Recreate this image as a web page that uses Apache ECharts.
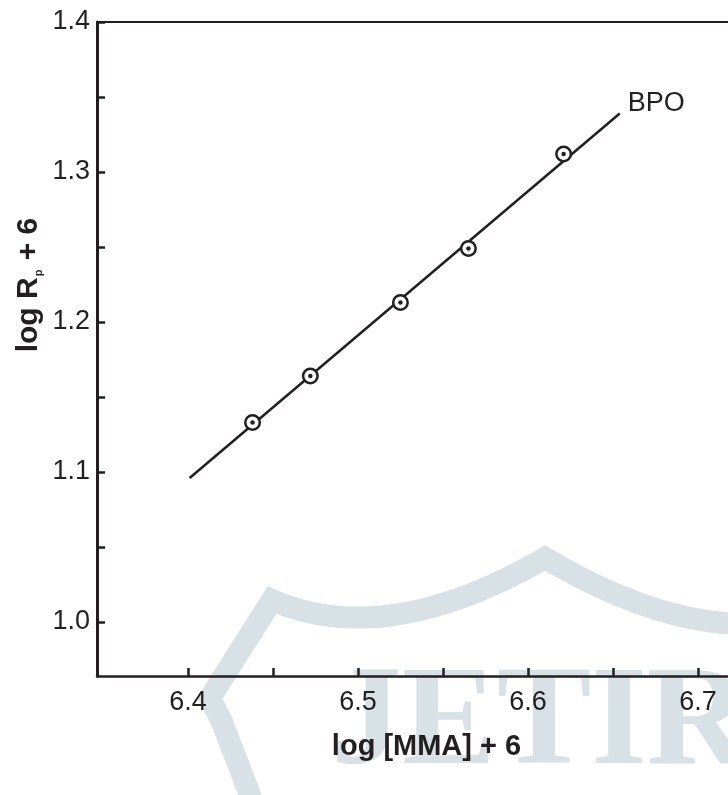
<!DOCTYPE html>
<html>
<head>
<meta charset="utf-8">
<script src="https://cdn.jsdelivr.net/npm/echarts@6/dist/echarts.min.js"></script>
<style>
  html, body { margin: 0; padding: 0; background: #ffffff; }
  #chart { width: 728px; height: 795px; }
</style>
</head>
<body>
<div id="chart"></div>
<script>
// Axis ticks and labels
const xTicks = [6.4, 6.45, 6.5, 6.55, 6.6, 6.65, 6.7];
const xLabels = [6.4, 6.5, 6.6, 6.7];
const yTicks = [1.0, 1.05, 1.1, 1.15, 1.2, 1.25, 1.3, 1.35, 1.4];
const yLabels = [1.0, 1.1, 1.2, 1.3, 1.4];

// Measured points: log[MMA]+6 vs log Rp+6
const mmaLog = [6.438, 6.472, 6.525, 6.565, 6.621];
const rateLog = [1.133, 1.164, 1.213, 1.249, 1.312];

// Least-squares line, end points
const fitX = [6.401, 6.654];
const fitY = [1.096, 1.339];
const seriesName = 'BPO';

const ink = '#231f20';
const wash = '#d8e1e6';
const sans = '"Liberation Sans", Arial, Helvetica, sans-serif';

const points = mmaLog.map((x, i) => [x, rateLog[i]]);
const fitLine = fitX.map((x, i) => [x, fitY[i]]);

// Quadratic curve sampler for the background emblem outline
function quad(p0, c, p1, n) {
  const out = [];
  for (let i = 0; i <= n; i++) {
    const t = i / n, a = (1 - t) * (1 - t), b = 2 * t * (1 - t), d = t * t;
    out.push([a * p0[0] + b * c[0] + d * p1[0], a * p0[1] + b * c[1] + d * p1[1]]);
  }
  return out;
}
const shield = [].concat(
  [[256, 812], [250, 795], [222, 722], [210, 698]],
  quad([272, 600], [386, 650], [545, 558], 30),
  quad([545, 558], [704, 652], [818, 612], 30).slice(1)
);

const xRange = { min: 6.3465, max: 6.7177 };

const chart = echarts.init(document.getElementById('chart'), null, { renderer: 'canvas' });

chart.setOption({
  animation: false,
  backgroundColor: '#ffffff',
  grid: { left: 97, top: 22, right: 0, height: 654, show: false },
  graphic: [
    {
      type: 'polyline', z: -100, silent: true,
      shape: { points: shield },
      style: { stroke: wash, lineWidth: 22, fill: null, lineJoin: 'miter', miterLimit: 4 }
    },
    {
      type: 'text', z: -100, silent: true, x: 331, y: 797,
      style: {
        text: 'JETIR', fill: wash, font: 'bold 142px "Liberation Serif", "Times New Roman", serif',
        textAlign: 'left', textVerticalAlign: 'bottom'
      }
    },
    {
      type: 'text', x: 29, y: 285, rotation: Math.PI / 2,
      style: {
        text: '{b|log R}{s|p}{b| + 6}',
        align: 'center', verticalAlign: 'middle',
        rich: {
          b: { fontFamily: sans, fontWeight: 'bold', fontSize: 30, fill: ink, color: ink },
          s: { fontFamily: sans, fontWeight: 'bold', fontSize: 11, fill: ink, color: ink, verticalAlign: 'bottom', padding: [0, 1, 0, 1] }
        }
      }
    }
  ],
  xAxis: [
    {
      type: 'value', min: xRange.min, max: xRange.max, position: 'bottom',
      name: 'log [MMA] + 6', nameLocation: 'middle', nameGap: 56,
      nameTextStyle: { fontFamily: sans, fontWeight: 'bold', fontSize: 29, color: ink, padding: [0, 0, 0, 28] },
      axisLine: { show: true, onZero: false, lineStyle: { color: ink, width: 2.5 } },
      axisTick: { show: true, inside: true, length: 8, lineStyle: { color: ink, width: 2.5 }, customValues: xTicks },
      axisLabel: {
        show: true, customValues: xLabels, margin: 13,
        fontFamily: sans, fontSize: 27, color: ink,
        formatter: v => v.toFixed(1)
      },
      splitLine: { show: false }
    },
    {
      // top frame edge
      type: 'value', min: xRange.min, max: xRange.max, position: 'top',
      axisLine: { show: true, onZero: false, lineStyle: { color: ink, width: 2 } },
      axisTick: { show: false }, axisLabel: { show: false }, splitLine: { show: false }
    }
  ],
  yAxis: {
    type: 'value', min: 0.964, max: 1.4,
    axisLine: { show: true, onZero: false, lineStyle: { color: ink, width: 3 } },
    axisTick: { show: true, inside: true, length: 8, lineStyle: { color: ink, width: 2.5 }, customValues: yTicks },
    axisLabel: {
      show: true, customValues: yLabels, margin: 7,
      fontFamily: sans, fontSize: 27, color: ink,
      formatter: v => v.toFixed(1)
    },
    splitLine: { show: false }
  },
  series: [
    {
      name: seriesName, type: 'line', data: fitLine, showSymbol: false, symbol: 'none',
      lineStyle: { color: ink, width: 2.5 }, z: 2,
      endLabel: {
        show: true, formatter: '{a}', distance: 5, offset: [3, -10],
        fontFamily: sans, fontSize: 27, color: ink
      }
    },
    {
      type: 'scatter', data: points, symbol: 'circle', symbolSize: 14.5, z: 3,
      itemStyle: { color: '#ffffff', borderColor: ink, borderWidth: 2.5, opacity: 1 }
    },
    {
      type: 'scatter', data: points, symbol: 'circle', symbolSize: 4.5, z: 4,
      itemStyle: { color: ink, opacity: 1 }
    }
  ]
});
</script>
</body>
</html>
